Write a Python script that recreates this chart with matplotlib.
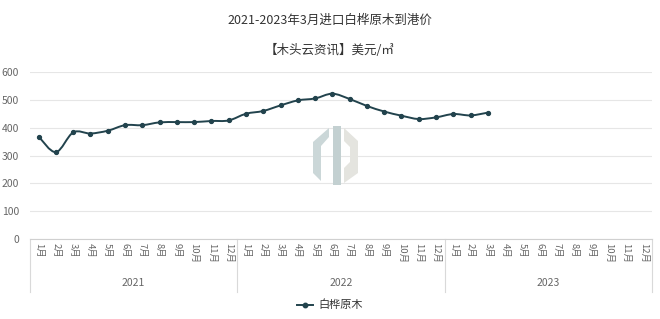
import numpy as np
import matplotlib
matplotlib.use('Agg')
import matplotlib.pyplot as plt
from matplotlib.path import Path
from matplotlib.patches import PathPatch, Polygon
from matplotlib.lines import Line2D
import matplotlib.transforms as mtransforms

plt.rcParams['font.family'] = ['Noto Sans CJK SC', 'DejaVu Sans']

# Datos
years = ['2021', '2022', '2023']
months = ['%d月' % m for m in range(1, 13)]
price = [368, 312, 383, 379, 389, 409, 409, 419, 420, 420, 424, 426,
         450, 460, 480, 498, 505, 522, 503, 478, 458, 443, 431, 437,
         449, 444, 454]
series_name = '白桦原木'
title = '2021-2023年3月进口白桦原木到港价'
subtitle = '【木头云资讯】美元/㎥'

LineColor = '#22434d'
TextColor = '#333333'
AxisColor = '#666666'
GridColor = '#e6e6e6'

fig = plt.figure(figsize=(6.6, 3.19), dpi=100)
ax = fig.add_axes([30/660, 1-239/319, 622/660, 167/319])

# marca de agua (aprox.)
wm = [([(313, 142), (329, 128), (329, 137), (321, 146), (321, 181), (313, 173)], '#cbd7d8'),
      ([(333, 126), (341, 126), (341, 185), (333, 185)], '#c3d0d1'),
      ([(344, 128), (358, 141), (358, 173), (344, 183), (344, 168), (350, 162), (350, 147), (344, 141)], '#e4e4df')]
for pts, col in wm:
    fig.patches.append(Polygon([(x/660, 1-y/319) for x, y in pts], closed=True,
                               transform=fig.transFigure, facecolor=col, edgecolor='none', zorder=0))

n = len(years) * len(months)
x = np.arange(len(price))
y = np.array(price, dtype=float)

# curva suavizada (Catmull-Rom -> Bezier)
verts = [(x[0], y[0])]
codes = [Path.MOVETO]
for i in range(len(x) - 1):
    p0 = np.array([x[max(i-1, 0)], y[max(i-1, 0)]])
    p1 = np.array([x[i], y[i]])
    p2 = np.array([x[i+1], y[i+1]])
    p3 = np.array([x[min(i+2, len(x)-1)], y[min(i+2, len(x)-1)]])
    c1 = p1 + (p2 - p0) / 6
    c2 = p2 - (p3 - p1) / 6
    verts += [tuple(c1), tuple(c2), tuple(p2)]
    codes += [Path.CURVE4] * 3
ax.add_patch(PathPatch(Path(verts, codes), facecolor='none', edgecolor=LineColor, lw=1.4, zorder=3))
ax.plot(x, y, 'o', color=LineColor, ms=2.8, zorder=4)

ax.set_xlim(-0.5, n - 0.5)
ax.set_ylim(0, 600)
ax.set_yticks(range(0, 601, 100))
ax.grid(axis='y', color=GridColor, lw=0.8)
ax.set_axisbelow(True)
for s in ['top', 'right', 'left']:
    ax.spines[s].set_visible(False)
ax.spines['bottom'].set_color('#d0d0d0')
ax.tick_params(axis='y', length=0, labelsize=7.5, labelcolor=AxisColor, pad=8)
ax.tick_params(axis='x', length=0, pad=3)
ax.set_xticks(range(n))
ax.set_xticklabels(months * len(years), rotation=-90, fontsize=6.8, color=AxisColor, va='top')

trans = mtransforms.blended_transform_factory(ax.transData, ax.transAxes)
for k in range(len(years) + 1):
    xb = k * 12 - 0.5
    ax.add_line(Line2D([xb, xb], [0, -0.317], transform=trans, color='#d9d9d9', lw=0.8, clip_on=False))
for k, yr in enumerate(years):
    ax.text(k * 12 + 5.5, -0.263, yr, transform=trans, ha='center', va='center',
            fontsize=7.5, color=AxisColor)

# leyenda
lx = 297/660
ly = 1 - 305/319
fig.add_artist(Line2D([lx, lx + 16/660], [ly, ly], transform=fig.transFigure, color=LineColor, lw=1.4))
fig.add_artist(Line2D([lx + 8/660], [ly], transform=fig.transFigure, color=LineColor, marker='o', ms=3.2))
fig.text(318/660, ly, series_name, ha='left', va='center', fontsize=8, color=TextColor)

fig.text(0.5, 1 - 20/319, title, ha='center', va='center', fontsize=9, color=TextColor)
fig.text(0.5, 1 - 50/319, subtitle, ha='center', va='center', fontsize=9, color=TextColor)

fig.savefig('out.png', dpi=100, facecolor='white')
